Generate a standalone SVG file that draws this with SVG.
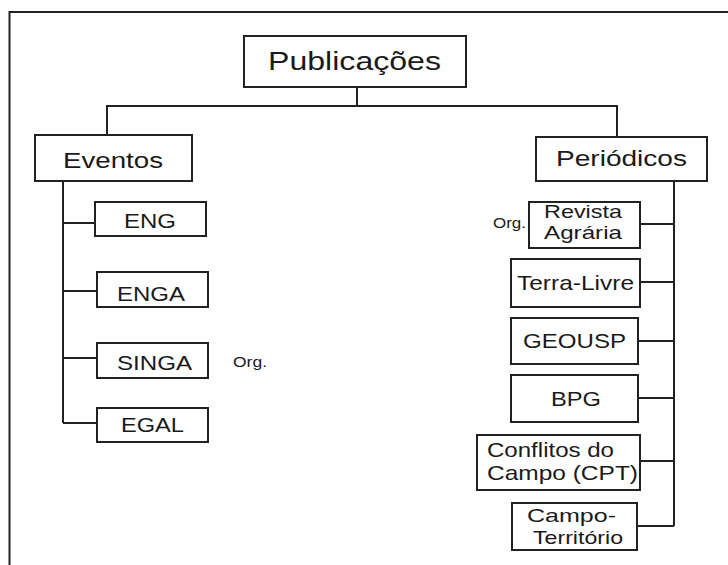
<svg xmlns="http://www.w3.org/2000/svg" width="728" height="565" viewBox="0 0 728 565">
<style>
rect{fill:#fff;stroke:#222;stroke-width:2}
.c{fill:none;stroke:#222;stroke-width:2}
text{font-family:"Liberation Sans",Arial,sans-serif;fill:#1a1a1a;font-size:21px}
.big{font-size:25px}
.mid{font-size:22px}
.sm{font-size:14px}
.t2{font-size:19px}
</style>
<rect x="0" y="0" width="728" height="565" style="stroke:none"/>
<path class="c" d="M9.5,565 V12 H728"/>
<g id="connectors">
<path class="c" d="M357,87 V106 M107,135 V106 H617 V137"/>
<path class="c" d="M63,181 V423 M63,223 H95 M63,291 H97 M63,358 H97 M63,423 H97"/>
<path class="c" d="M674,181 V526 M640,224 H674 M640,282 H674 M638,341 H674 M638,398 H674 M640,461 H674 M637,526 H674"/>
</g>
<g id="publicacoes"><rect x="244" y="36" width="222" height="51"/><text class="big" x="268" y="70" textLength="173" lengthAdjust="spacingAndGlyphs">Publicações</text></g>
<g id="eventos"><rect x="35" y="135" width="157" height="46"/><text class="mid" x="63" y="168" textLength="100" lengthAdjust="spacingAndGlyphs">Eventos</text></g>
<g id="periodicos"><rect x="536" y="137" width="171" height="44"/><text class="mid" x="556" y="166" textLength="131" lengthAdjust="spacingAndGlyphs">Periódicos</text></g>
<g id="eng"><rect x="95" y="202" width="111" height="34"/><text x="124" y="228" textLength="52" lengthAdjust="spacingAndGlyphs">ENG</text></g>
<g id="enga"><rect x="97" y="272" width="111" height="35"/><text x="117" y="301" textLength="68" lengthAdjust="spacingAndGlyphs">ENGA</text></g>
<g id="singa"><rect x="97" y="343" width="111" height="35"/><text x="117" y="370" textLength="75" lengthAdjust="spacingAndGlyphs">SINGA</text></g>
<text class="sm" x="233" y="367" textLength="34" lengthAdjust="spacingAndGlyphs">Org.</text>
<g id="egal"><rect x="97" y="408" width="111" height="34"/><text x="121" y="432" textLength="63" lengthAdjust="spacingAndGlyphs">EGAL</text></g>
<g id="revista"><rect x="529" y="202" width="111" height="46"/><text class="t2" x="544" y="218" textLength="78" lengthAdjust="spacingAndGlyphs">Revista</text><text class="t2" x="544" y="239" textLength="78" lengthAdjust="spacingAndGlyphs">Agrária</text></g>
<text class="sm" x="493" y="228" textLength="33" lengthAdjust="spacingAndGlyphs">Org.</text>
<g id="terralivre"><rect x="511" y="259" width="129" height="48"/><text x="517" y="290" textLength="117" lengthAdjust="spacingAndGlyphs">Terra-Livre</text></g>
<g id="geousp"><rect x="511" y="318" width="127" height="46"/><text x="523" y="348" textLength="103" lengthAdjust="spacingAndGlyphs">GEOUSP</text></g>
<g id="bpg"><rect x="511" y="375" width="127" height="47"/><text x="551" y="406" textLength="50" lengthAdjust="spacingAndGlyphs">BPG</text></g>
<g id="conflitos"><rect x="477" y="435" width="163" height="55"/><text x="487" y="457" textLength="127" lengthAdjust="spacingAndGlyphs">Conflitos do</text><text x="487" y="480" textLength="151" lengthAdjust="spacingAndGlyphs">Campo (CPT)</text></g>
<g id="campoterritorio"><rect x="512" y="503" width="125" height="47"/><text class="t2" x="527" y="522" textLength="89" lengthAdjust="spacingAndGlyphs">Campo-</text><text class="t2" x="533" y="544" textLength="90" lengthAdjust="spacingAndGlyphs">Território</text></g>
</svg>
